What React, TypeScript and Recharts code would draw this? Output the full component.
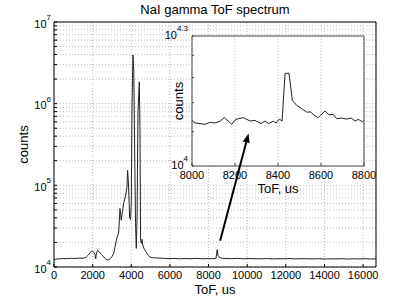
import React from 'react';
import { LineChart, Line, XAxis, YAxis, CartesianGrid, ReferenceLine } from 'recharts';

const FONT = '"Liberation Sans", Arial, Helvetica, sans-serif';

// full spectrum, ToF in us
const mainToF = [
  0, 100, 300, 500, 700, 900, 1100, 1300, 1500, 1650,
  1750, 1850, 1950, 2050, 2120, 2160, 2200, 2260, 2350, 2450,
  2570, 2700, 2800, 2920, 3000, 3085, 3170, 3224, 3290, 3345,
  3390, 3416, 3450, 3483, 3540, 3603, 3690, 3778, 3810, 3850,
  3890, 3913, 3960, 4000, 4040, 4089, 4130, 4172, 4220, 4260,
  4300, 4348, 4415, 4450, 4482, 4520, 4555, 4600, 4650, 4750,
  4850, 4950, 5100, 5300, 5600, 5900, 6200, 6500, 6800, 7100,
  7400, 7700, 8000, 8200, 8380, 8420, 8440, 8460, 8480, 8520,
  8600, 8700, 8900, 9200, 9500, 9800, 10100, 10400, 10700, 11000,
  11300, 11600, 11900, 12200, 12500, 12800, 13100, 13400, 13700, 14000,
  14300, 14600, 14900, 15200, 15500, 15800, 16100, 16400, 16667,
];
const mainCounts = [
  12300, 12500, 12600, 12700, 12650, 12800, 12700, 12850, 12800, 13100,
  13800, 14800, 15700, 15300, 14200, 12600, 15000, 16000, 15300, 14300,
  13300, 12300, 12200, 12700, 13400, 14600, 18000, 21200, 24000, 26000,
  40000, 52000, 44000, 37400, 47000, 59800, 72000, 95600, 153000, 110000,
  60000, 41000, 38000, 60000, 1000000, 3930000, 2500000, 300000, 35000, 16900,
  40000, 800000, 1850000, 500000, 21200, 19500, 21800, 18500, 17000, 15500,
  14300, 13300, 13000, 12900, 12800, 12650, 12750, 12600, 12700, 12650,
  12750, 12600, 12700, 12650, 12750, 14500, 16300, 16200, 14000, 13400,
  13000, 12800, 12700, 12650, 12750, 12600, 12700, 12650, 12600, 12700,
  12550, 12650, 12600, 12700, 12550, 12650, 12600, 12550, 12650, 12500,
  12600, 12550, 12650, 12500, 12600, 12550, 12650, 12500, 12600,
];

// zoom on the 8.4 ms line
const insetToF = [
  8000, 8014, 8060, 8084, 8107, 8130, 8150, 8185, 8203, 8239,
  8270, 8293, 8321, 8340, 8355, 8378, 8391, 8406, 8419, 8433,
  8451, 8467, 8487, 8510, 8533, 8552, 8575, 8587, 8619, 8637,
  8657, 8673, 8696, 8720, 8740, 8758, 8773, 8792, 8800,
];
const insetCounts = [
  12740, 12570, 12480, 12610, 12570, 12680, 12930, 12480, 12810, 12930,
  12700, 12740, 12530, 12700, 12530, 12680, 12570, 12830, 12700, 16360,
  16360, 14160, 13800, 13560, 13320, 13320, 13020, 12930, 13390, 13130,
  13150, 12860, 12900, 12830, 12900, 12700, 12810, 12660, 12740,
];

const mainXTicks = [0, 2000, 4000, 6000, 8000, 10000, 12000, 14000, 16000];
const mainDecades = [4, 5, 6];
const mainYTicks = [...mainDecades.flatMap((d) => [1, 2, 3, 4, 5, 6, 7, 8, 9].map((m) => m * 10 ** d)), 1e7];
const mainYLabels = [1e4, 1e5, 1e6, 1e7];

const insetXTicks = [8000, 8200, 8400, 8600, 8800];
const insetTop = 10 ** 4.3;
const insetYTicks = [1e4, 1.2e4, 1.4e4, 1.6e4, 1.8e4, insetTop];
const insetYLabels = [1e4, insetTop];

// arrow from the small peak to the inset
const arrowFrom = { x: 8600, y: 21000 };
const arrowTo = { x: 10070, y: 430000 };

const mainData = mainToF.map((t, i) => ({ t, c: mainCounts[i] }));
const insetData = insetToF.map((t, i) => ({ t, c: insetCounts[i] }));

const tickStyle = { fontSize: 11, fill: '#000', fontFamily: FONT };

const makeLogTick = (labels: number[], base: number) => (props: any) => {
  const { x, y, payload } = props;
  const v = payload.value;
  if (!labels.some((l) => Math.abs(l - v) / l < 1e-6)) return <g />;
  const e = Math.log10(v);
  const exp = Math.abs(e - Math.round(e)) < 1e-6 ? String(Math.round(e)) : e.toFixed(1);
  return (
    <text x={x} y={y + base} textAnchor="end" fontSize={11} fontFamily={FONT} fill="#000">
      10<tspan fontSize={8} dy={-7.5}>{exp}</tspan>
    </text>
  );
};

const TopTitle = (props: any) => {
  const { viewBox, value } = props;
  return (
    <text x={viewBox.x + viewBox.width / 2} y={viewBox.y - 7.5} textAnchor="middle" fontSize={13} fontFamily={FONT} fill="#000">
      {value}
    </text>
  );
};

const BottomLabel = (dy: number) => (props: any) => {
  const { viewBox, value } = props;
  return (
    <text x={viewBox.x + viewBox.width / 2} y={viewBox.y + dy} textAnchor="middle" fontSize={13} fontFamily={FONT} fill="#000">
      {value}
    </text>
  );
};

const SideLabel = (cxOff: number) => (props: any) => {
  const { viewBox, value } = props;
  const cx = viewBox.x + cxOff;
  const cy = viewBox.y + viewBox.height / 2;
  return (
    <text x={cx} y={cy} transform={`rotate(-90 ${cx} ${cy})`} textAnchor="middle" dominantBaseline="central" fontSize={13} fontFamily={FONT} fill="#000">
      {value}
    </text>
  );
};

const Arrow = (props: any) => {
  const { x1, y1, x2, y2 } = props;
  const a = Math.atan2(y2 - y1, x2 - x1);
  const L = 9;
  const W = 3.5;
  const bx = x2 - L * Math.cos(a);
  const by = y2 - L * Math.sin(a);
  const p1 = `${bx + W * Math.sin(a)},${by - W * Math.cos(a)}`;
  const p2 = `${bx - W * Math.sin(a)},${by + W * Math.cos(a)}`;
  return (
    <g>
      <line x1={x1} y1={y1} x2={bx} y2={by} stroke="#000" strokeWidth={2} />
      <polygon points={`${x2},${y2} ${p1} ${p2}`} fill="#000" />
    </g>
  );
};

const MAIN_X = [0, 16667];
const MAIN_Y = [1e4, 1e7];

export default function App() {
  return (
    <div style={{ position: 'absolute', left: 0, top: 0, width: 415, height: 303, background: '#fff' }}>
      <div style={{ position: 'absolute', left: 0, top: 0 }}>
        <LineChart width={415} height={303} data={mainData} margin={{ top: 21, right: 38, bottom: 0, left: 0 }}>
          <CartesianGrid stroke="#a8a8a8" strokeDasharray="1 2" strokeWidth={0.8} />
          <XAxis
            dataKey="t"
            type="number"
            domain={MAIN_X}
            ticks={mainXTicks}
            interval={0}
            allowDataOverflow
            height={36}
            stroke="#000"
            tickSize={-3}
            tickMargin={7}
            tick={tickStyle}
            label={{ value: 'ToF, us', content: BottomLabel(26.5) }}
          />
          <XAxis
            xAxisId="top"
            orientation="top"
            type="number"
            domain={MAIN_X}
            ticks={mainXTicks}
            interval={0}
            allowDataOverflow
            height={1}
            stroke="#000"
            tickSize={-3}
            tick={false}
            label={{ value: 'NaI gamma ToF spectrum', content: TopTitle }}
          />
          <YAxis
            scale="log"
            domain={MAIN_Y}
            ticks={mainYTicks}
            interval={0}
            allowDataOverflow
            width={54}
            stroke="#000"
            tickSize={-3}
            tickMargin={6}
            tick={makeLogTick(mainYLabels, 5.5)}
            label={{ value: 'counts', content: SideLabel(23) }}
          />
          <YAxis
            yAxisId="right"
            orientation="right"
            scale="log"
            domain={MAIN_Y}
            ticks={mainYTicks}
            interval={0}
            allowDataOverflow
            width={1}
            stroke="#000"
            tickSize={-3}
            tick={false}
          />
          <Line type="linear" dataKey="c" stroke="#222" strokeWidth={1} dot={false} isAnimationActive={false} />
        </LineChart>
      </div>

      <div style={{ position: 'absolute', left: 150, top: 20 }}>
        <LineChart width={240} height={180} data={insetData} margin={{ top: 15, right: 25, bottom: 0, left: 0 }}>
          <CartesianGrid stroke="#a8a8a8" strokeDasharray="1 2" strokeWidth={0.8} horizontal={false} fill="#fff" fillOpacity={1} />
          <XAxis
            dataKey="t"
            type="number"
            domain={[8000, 8800]}
            ticks={insetXTicks}
            interval={0}
            allowDataOverflow
            height={34}
            stroke="#444"
            tickSize={-3}
            tickMargin={8}
            tick={tickStyle}
            label={{ value: 'ToF, us', content: BottomLabel(27) }}
          />
          <XAxis
            xAxisId="top"
            orientation="top"
            type="number"
            domain={[8000, 8800]}
            ticks={insetXTicks}
            interval={0}
            allowDataOverflow
            height={1}
            stroke="#444"
            tickSize={-3}
            tick={false}
          />
          <YAxis
            scale="log"
            domain={[1e4, insetTop]}
            ticks={insetYTicks}
            interval={0}
            allowDataOverflow
            width={42}
            stroke="#444"
            tickSize={-2}
            tickMargin={6}
            tick={makeLogTick(insetYLabels, 2.5)}
            label={{ value: 'counts', content: SideLabel(28) }}
          />
          <YAxis
            yAxisId="right"
            orientation="right"
            scale="log"
            domain={[1e4, insetTop]}
            ticks={insetYTicks}
            interval={0}
            allowDataOverflow
            width={1}
            stroke="#444"
            tickSize={-2}
            tick={false}
          />
          <Line type="linear" dataKey="c" stroke="#222" strokeWidth={1} dot={false} isAnimationActive={false} />
        </LineChart>
      </div>

      <div style={{ position: 'absolute', left: 0, top: 0 }}>
        <LineChart width={415} height={303} data={mainData} margin={{ top: 22, right: 39, bottom: 0, left: 0 }}>
          <XAxis dataKey="t" type="number" domain={MAIN_X} allowDataOverflow height={36} axisLine={false} tickLine={false} tick={false} />
          <YAxis scale="log" domain={MAIN_Y} allowDataOverflow width={54} axisLine={false} tickLine={false} tick={false} />
          <ReferenceLine segment={[arrowFrom, arrowTo]} ifOverflow="visible" shape={Arrow} />
        </LineChart>
      </div>
    </div>
  );
}
